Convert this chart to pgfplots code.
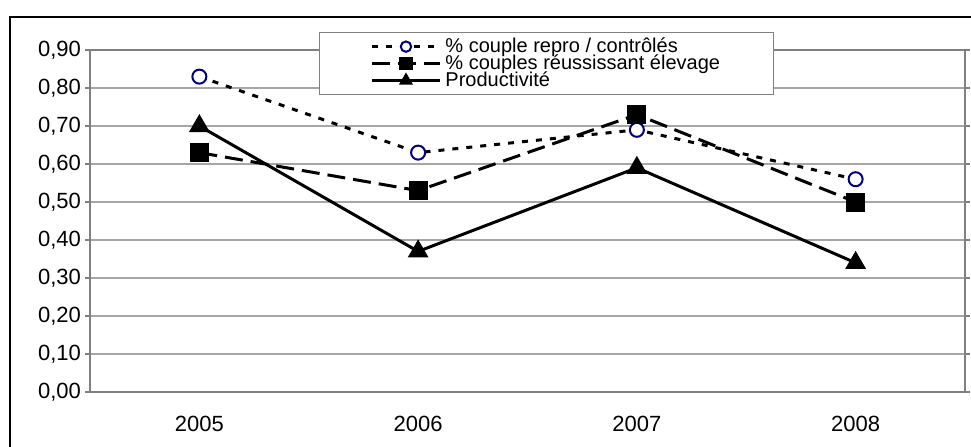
\documentclass[border=0pt]{standalone}
\usepackage{fontspec}
\setmainfont{Liberation Sans}
\usepackage{pgfplots}
\pgfplotsset{compat=1.18}
\definecolor{axisgray}{HTML}{808080}
\definecolor{gridgray}{HTML}{A6A6A6}
\definecolor{navyc}{HTML}{000080}
\begin{document}
\begin{tikzpicture}
\clip (0,0) rectangle (485.5pt,223pt);
\draw[line width=1pt] (5pt,-20pt) rectangle (520pt,214.5pt);
\begin{axis}[
    at={(45pt,27pt)}, anchor=south west,
    scale only axis,
    width=437.5pt, height=171pt,
    xmin=0.5, xmax=4.5, ymin=0, ymax=0.9,
    xtick={1,2,3,4},
    xticklabels={2005,2006,2007,2008},
    x tick style={draw=none},
    xticklabel style={yshift=-6pt},
    extra x ticks={0.5,1.5,2.5,3.5,4.5},
    extra x tick labels={},
    extra x tick style={grid=none, tick style={draw=axisgray, line width=0.75pt}},
    ytick={0,0.1,0.2,0.3,0.4,0.5,0.6,0.7,0.8,0.9},
    y tick style={draw=axisgray, line width=0.75pt},
    tick align=outside,
    major tick length=2.5pt,
    ymajorgrids,
    grid style={gridgray, line width=0.6pt},
    axis line style={axisgray, line width=0.75pt},
    /pgf/number format/assume math mode=true,
    yticklabel style={xshift=1.5pt, /pgf/number format/fixed, /pgf/number format/fixed zerofill,
        /pgf/number format/precision=2, /pgf/number format/use comma},
    tick label style={font=\fontsize{11}{13}\selectfont},
    legend style={at={(0.2617,1.0526)}, anchor=north west, draw=gray, fill=white,
        line width=0.5pt, inner xsep=0pt, inner ysep=2.8pt, row sep=0pt,
        font=\fontsize{10}{10}\selectfont,
        nodes={inner sep=0pt, text height=7pt, text depth=1.5pt}},
    legend cell align=left,
    legend image post style={mark size=2.6pt},
    legend image code/.code={%
        \path (-25.5pt,-1pt) (34pt,1pt);
        \draw[overlay,mark repeat=2,mark phase=2,#1]
            plot coordinates {(0pt,0pt)(17pt,0pt)(34pt,0pt)};},
]
% % couple repro / controles
\addplot[black, line width=1.5pt, dash pattern=on 3pt off 4pt,
    mark=*, mark size=3.5pt,
    mark options={solid, draw=navyc, fill=white, line width=1pt}]
    coordinates {(1,0.83) (2,0.63) (3,0.69) (4,0.56)};
\addlegendentry{\makebox[166pt][l]{\hspace{2pt}\% couple repro / contrôlés}}
% % couples reussissant elevage
\addplot[black, line width=1.5pt, dash pattern=on 9pt off 4pt,
    mark=square*, mark size=4pt, mark options={solid, fill=black}]
    coordinates {(1,0.63) (2,0.53) (3,0.73) (4,0.50)};
\addlegendentry{\makebox[166pt][l]{\hspace{2pt}\% couples réussissant élevage}}
% Productivite
\addplot[black, line width=1.5pt, solid,
    mark=triangle*, mark size=4.5pt, mark options={solid, fill=black}]
    coordinates {(1,0.70) (2,0.37) (3,0.59) (4,0.34)};
\addlegendentry{\makebox[166pt][l]{\hspace{2pt}Productivité}}
\end{axis}
\end{tikzpicture}
\end{document}
